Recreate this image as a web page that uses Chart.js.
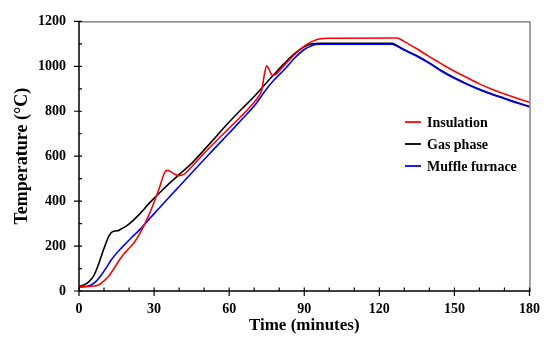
<!DOCTYPE html>
<html>
<head>
<meta charset="utf-8">
<script src="https://cdn.jsdelivr.net/npm/chart.js@4"></script>
<style>
  html, body { margin: 0; padding: 0; background: #fff; }
  #wrap { width: 550px; height: 344px; }
</style>
</head>
<body>
<div id="wrap"><canvas id="grafico" width="550" height="344"></canvas></div>
<script>
// series names, shown in the legend in this order
const seriesNames = ['Insulation', 'Gas phase', 'Muffle furnace'];

// Insulation (red)
const tInsulation = [0, 4, 6, 8, 10, 12, 14, 16, 18, 20, 22, 24, 26, 28, 30, 32, 34, 35, 36, 38, 40, 42, 45, 50, 55, 60, 65, 70, 72, 73, 74, 75, 76, 77, 78, 80, 85, 90, 93, 96, 100, 127, 130, 135, 140, 145, 150, 155, 160, 165, 170, 175, 180];
const yInsulation = [20, 20, 22, 28, 45, 68, 100, 136, 166, 190, 215, 250, 292, 340, 395, 455, 522, 537, 535, 521, 513, 520, 553, 613, 670, 725, 780, 840, 870, 893, 960, 1002, 985, 962, 960, 980, 1040, 1090, 1110, 1122, 1125, 1126, 1110, 1078, 1043, 1010, 978, 950, 922, 898, 877, 858, 840];

// Gas phase (black)
const tGas = [0, 2, 4, 6, 8, 10, 12, 13.5, 15.5, 17, 19, 21, 24, 28, 32, 36, 40, 45, 50, 55, 60, 65, 70, 75, 78, 82, 86, 90, 93, 96, 110, 125, 127, 130, 135, 140, 145, 150, 155, 160, 165, 170, 175, 180];
const yGas = [20, 27, 42, 70, 125, 190, 245, 265, 268, 277, 290, 308, 340, 390, 435, 478, 518, 568, 628, 690, 752, 810, 866, 928, 965, 1012, 1055, 1087, 1100, 1102, 1102, 1102, 1093, 1074, 1047, 1015, 979, 949, 922, 898, 877, 858, 839, 821];

// Muffle furnace (blue)
const tMuffle = [0, 3, 5, 7, 9, 11, 13, 15, 17, 19, 21, 24, 28, 32, 36, 40, 45, 50, 55, 60, 65, 70, 75, 78, 82, 86, 90, 93, 96, 125, 127, 130, 135, 140, 145, 150, 155, 160, 165, 170, 175, 180];
const yMuffle = [18, 20, 28, 45, 72, 105, 140, 168, 192, 215, 238, 270, 320, 368, 417, 465, 525, 585, 645, 703, 763, 823, 900, 940, 985, 1035, 1075, 1092, 1098, 1098, 1090, 1072, 1045, 1013, 977, 947, 920, 896, 875, 856, 837, 820];

const xTicks = [0, 30, 60, 90, 120, 150, 180];
const yTicks = [0, 200, 400, 600, 800, 1000, 1200];

function puntos(ts, ys) {
    return ts.map((t, i) => ({ x: t, y: ys[i] }));
}

const fuenteSerif = '"Liberation Serif", "DejaVu Serif", serif';

// axis box, tick marks and legend
const marcoPlugin = {
    id: 'marco',
    afterDatasetsDraw(chart) {
        const ctx = chart.ctx;
        const a = chart.chartArea;
        const sx = chart.scales.x, sy = chart.scales.y;
        ctx.save();
        // top and right edges of the box
        ctx.strokeStyle = '#444';
        ctx.lineWidth = 1;
        ctx.beginPath();
        ctx.moveTo(a.left, a.top + 0.5);
        ctx.lineTo(a.right + 0.5, a.top + 0.5);
        ctx.lineTo(a.right + 0.5, a.bottom);
        ctx.stroke();
        // left and bottom axes
        ctx.strokeStyle = '#000';
        ctx.lineWidth = 1.5;
        ctx.beginPath();
        ctx.moveTo(a.left, a.top);
        ctx.lineTo(a.left, a.bottom);
        ctx.lineTo(a.right + 1, a.bottom);
        ctx.stroke();
        // ticks
        ctx.lineWidth = 1.2;
        ctx.beginPath();
        for (let v = 0; v <= 180; v += 10) {
            const px = sx.getPixelForValue(v);
            const mayor = v % 30 === 0;
            ctx.moveTo(px, a.bottom - 3.5);
            ctx.lineTo(px, a.bottom + (mayor ? 5 : 0));
        }
        for (let v = 0; v <= 1200; v += 100) {
            const py = sy.getPixelForValue(v);
            const mayor = v % 200 === 0;
            ctx.moveTo(a.left + 3, py);
            ctx.lineTo(a.left - (mayor ? 5 : 0), py);
        }
        ctx.stroke();
        // legend
        const orden = [0, 1, 2];
        ctx.font = 'bold 14px ' + fuenteSerif;
        ctx.textBaseline = 'middle';
        ctx.textAlign = 'left';
        orden.forEach((idx, i) => {
            const ds = chart.data.datasets[idx];
            const y = 122 + i * 22;
            ctx.strokeStyle = ds.borderColor;
            ctx.lineWidth = 1.8;
            ctx.beginPath();
            ctx.moveTo(405, y);
            ctx.lineTo(421, y);
            ctx.stroke();
            ctx.fillStyle = '#000';
            ctx.fillText(ds.label, 427, y + 1);
        });
        ctx.restore();
    }
};

const ctx = document.getElementById('grafico').getContext('2d');
new Chart(ctx, {
    type: 'line',
    data: {
        datasets: [
            { label: seriesNames[0], data: puntos(tInsulation, yInsulation), borderColor: '#ff0000', order: 0 },
            { label: seriesNames[1], data: puntos(tGas, yGas), borderColor: '#000000', order: 2 },
            { label: seriesNames[2], data: puntos(tMuffle, yMuffle), borderColor: '#0000ff', order: 1 }
        ]
    },
    options: {
        responsive: false,
        animation: false,
        events: [],
        elements: {
            point: { radius: 0 },
            line: { borderWidth: 1.6, cubicInterpolationMode: 'monotone', fill: false }
        },
        layout: { padding: { left: 12, top: 16, right: 17, bottom: 8 } },
        plugins: {
            legend: { display: false },
            tooltip: { enabled: false }
        },
        scales: {
            x: {
                type: 'linear',
                min: 0, max: 180,
                grid: { display: false, drawTicks: false },
                border: { display: false },
                afterBuildTicks: (s) => { s.ticks = xTicks.map(v => ({ value: v })); },
                afterFit: (s) => { s.height = 45; },
                ticks: {
                    padding: 10,
                    maxRotation: 0,
                    color: '#000',
                    callback: (v) => String(v),
                    font: { family: fuenteSerif, size: 14, weight: 'bold' }
                },
                title: {
                    display: true,
                    text: 'Time (minutes)',
                    color: '#000',
                    padding: 0,
                    font: { family: fuenteSerif, size: 17, weight: 'bold' }
                }
            },
            y: {
                min: 0, max: 1200,
                grid: { display: false, drawTicks: false },
                border: { display: false },
                afterBuildTicks: (s) => { s.ticks = yTicks.map(v => ({ value: v })); },
                afterFit: (s) => { s.width = 67; },
                ticks: {
                    padding: 13,
                    color: '#000',
                    callback: (v) => String(v),
                    font: { family: fuenteSerif, size: 14, weight: 'bold' }
                },
                title: {
                    display: true,
                    text: 'Temperature (°C)',
                    color: '#000',
                    padding: 0,
                    font: { family: fuenteSerif, size: 18, weight: 'bold' }
                }
            }
        }
    },
    plugins: [marcoPlugin, {
        id: 'fondo',
        beforeDraw(chart) {
            const c = chart.ctx;
            c.save();
            c.fillStyle = '#fff';
            c.fillRect(0, 0, chart.width, chart.height);
            c.restore();
        }
    }]
});
</script>
</body>
</html>
